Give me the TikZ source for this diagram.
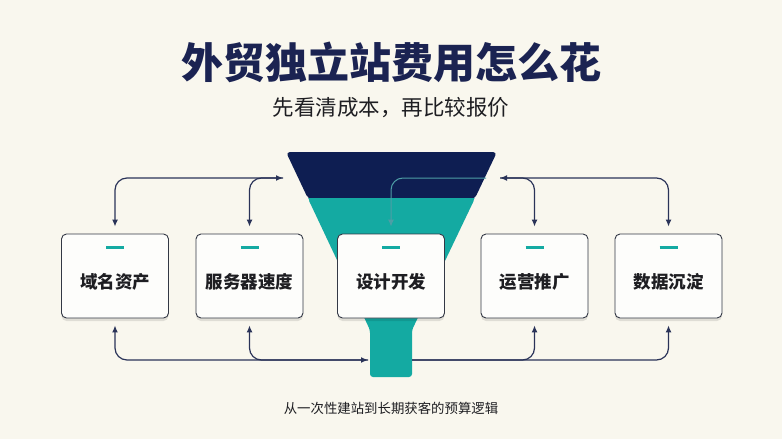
\documentclass[tikz,border=0pt]{standalone}
\usepackage{fontspec}
\setmainfont{Noto Sans CJK SC}
\usetikzlibrary{arrows.meta,shadows}

\definecolor{bgcream}{HTML}{F9F7EE}
\definecolor{titlenavy}{HTML}{1B2352}
\definecolor{funnelnavy}{HTML}{0E1E52}
\definecolor{funnelteal}{HTML}{14AAA2}
\definecolor{linenavy}{HTML}{2A3358}
\definecolor{lineteal}{HTML}{4E9EA6}
\definecolor{boxline}{HTML}{333845}
\definecolor{boxfill}{HTML}{FDFDFB}
\definecolor{textdark}{HTML}{1E1E22}

\tikzset{
    stage/.style={draw=boxline, line width=0.9pt, fill=boxfill, rounded corners=5pt,
        minimum width=107pt, minimum height=84pt, text=textdark,
        font=\bfseries\fontsize{17.5}{20}\selectfont, text height=24pt, text depth=0pt,
        drop shadow={shadow xshift=0pt, shadow yshift=-3pt, opacity=0.10, fill=black}},
    link/.style={draw=linenavy, line width=1.2pt, rounded corners=12pt},
    accentbar/.style={draw=funnelteal, line width=2.6pt},
    >={Latex[length=7pt,width=6pt]}
}

\begin{document}
\begin{tikzpicture}[x=1pt,y=-1pt]
        \fill[bgcream] (0,0) rectangle (782,439);

        \node[font=\bfseries\fontsize{42}{48}\selectfont, text=titlenavy] (title) at (391,62) {外贸独立站费用怎么花};
        \node[font=\fontsize{21.5}{26}\selectfont, text=textdark] (subtitle) at (391,108) {先看清成本，再比较报价};

        % funnel
        \fill[funnelnavy, rounded corners=4pt] (286,152) -- (497,152) -- (474.6,199) -- (308.2,199) -- cycle;
        \fill[funnelteal, rounded corners=3pt] (308.2,199) -- (474.6,199) -- (412,330) -- (412,377) -- (370,377) -- (370,330) -- cycle;
        \fill[funnelteal] (308.2,198) -- (474.6,198) -- (472,204) -- (311,204) -- cycle;

        \coordinate (topL) at (283,178);
        \coordinate (topR) at (500,178);
        \coordinate (tealS) at (486,178);
        \coordinate (neckL) at (368,360);
        \coordinate (neckR) at (412,360);

        \node[stage] (domain) at (115,276) {域名资产};
        \node[stage] (server) at (249.5,276) {服务器速度};
        \node[stage] (design) at (391,276) {设计开发};
        \node[stage] (ops) at (534.5,276) {运营推广};
        \node[stage] (data) at (668.5,276) {数据沉淀};

        \foreach \n in {domain,server,design,ops,data}
            \draw[accentbar] ([xshift=-9pt,yshift=-14pt]\n.north) -- ++(18,0);

        % top links
        \draw[link,<->,shorten <=7pt] (domain.north) |- (topL);
        \draw[link,<-,shorten <=7pt] (server.north) |- (topL);
        \draw[link,<->,shorten <=7pt] (data.north) |- (topR);
        \draw[link,<-,shorten <=7pt] (ops.north) |- (topR);
        \draw[link,draw=lineteal,line width=1pt,->,shorten >=7pt] (tealS) -| (design.north);

        % bottom links
        \draw[link,<->,shorten <=7pt] (domain.south) |- (neckL);
        \draw[link,<-,shorten <=7pt] (server.south) |- (neckL);
        \draw[link,->,shorten >=7pt] (neckR) -| (ops.south);
        \draw[link,->,shorten >=7pt] (neckR) -| (data.south);

        \node[font=\fontsize{13.4}{16}\selectfont, text=textdark] (caption) at (391,408) {从一次性建站到长期获客的预算逻辑};

    \end{tikzpicture}
\end{document}
